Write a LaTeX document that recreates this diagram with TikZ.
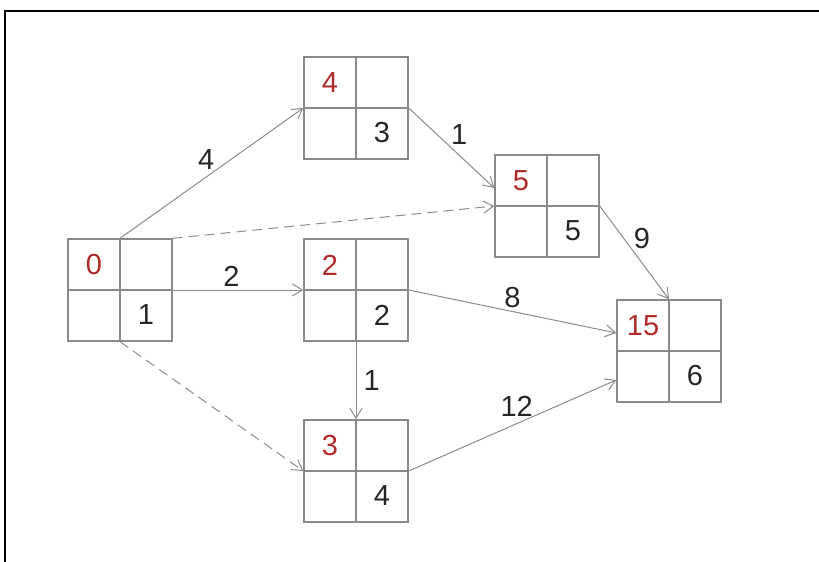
\documentclass[tikz,border=0pt]{standalone}
\usepackage{fontspec}
\setmainfont{Liberation Sans}
\usetikzlibrary{arrows.meta,positioning,calc}
\definecolor{cEarly}{HTML}{B02A2A}
\definecolor{cLine} {HTML}{8A8A8A}
\definecolor{cArr}  {HTML}{8C8C8C}
\tikzset{
  evt/.style   ={draw=cLine,line width=0.7pt,minimum width=52pt,minimum height=51pt,
                 inner sep=0pt},
  cross/.style ={draw=cLine,line width=0.6pt},
  early/.style ={font=\fontsize{14.5}{16}\selectfont,text=cEarly,inner sep=0pt},
  evno/.style  ={font=\fontsize{14.5}{16}\selectfont,text=black!85,inner sep=0pt},
  act/.style   ={-{Straight Barb[length=5pt,width=6pt]},draw=cArr,line width=0.5pt},
  dum/.style   ={act,dash pattern=on 5pt off 3pt},
  dur/.style   ={font=\fontsize{14.5}{16}\selectfont,text=black!85,inner sep=1.5pt},
  frame/.style ={draw=black,line width=1.1pt},
}

\begin{document}
\begin{tikzpicture}[x=0.5pt, y=-0.5pt]

\useasboundingbox (0,0) rectangle (819,562);
\draw[frame] (5,562) -- (5,11) -- (819,11);

% --- events: earliest time (top left), event number (bottom right) -------
\foreach \n/\x/\y/\e in {1/120/290/0, 2/356/290/2, 3/356/108/4,
                         4/356/471/3, 5/547/206/5, 6/669/351/15}{
  \node[evt] (ev\n) at (\x,\y) {};
  \draw[cross] (ev\n.north) -- (ev\n.south) (ev\n.west) -- (ev\n.east);
  \node[early] (t\n) at ([shift={(-13pt,12.5pt)}]ev\n.center) {\e};
  \node[evno]  (k\n) at ([shift={(13pt,-12.5pt)}]ev\n.center) {\n};
}

% --- activities ----------------------------------------------------------
\draw[act] (ev1.north) -- node[dur,above left,pos=0.5,xshift=3pt]{4} (ev3.west);
\draw[act] (ev3.east)  -- node[dur,above right,pos=0.5,xshift=-2pt]{1} ([yshift=9pt]ev5.west);
\draw[act] (ev1.east)  -- node[dur,above,pos=0.45]{2} (ev2.west);
\draw[act] (ev2.south) -- node[dur,right,pos=0.5,xshift=2pt]{1} (ev4.north);
\draw[act] (ev2.east)  -- node[dur,above,pos=0.5]{8} ([yshift=9pt]ev6.west);
\draw[act] (ev4.east)  -- node[dur,above,pos=0.52,yshift=2pt]{12} ([yshift=-14.5pt]ev6.west);
\draw[act] (ev5.east)  -- node[dur,above right,pos=0.5,xshift=-2pt]{9} (ev6.north);

% --- dummy activities ----------------------------------------------------
\draw[dum] (ev1.north east) -- (ev5.west);
\draw[dum] (ev1.south) -- (ev4.west);

\end{tikzpicture}
\end{document}
